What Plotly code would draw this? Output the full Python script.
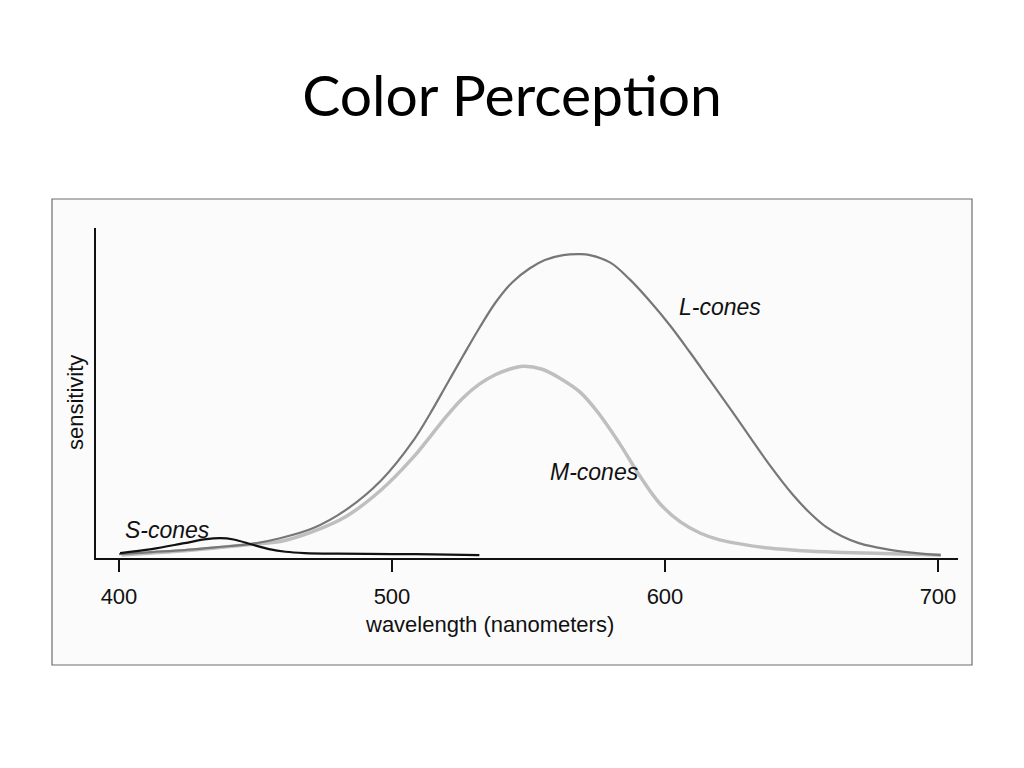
import plotly.graph_objects as go

# ---- data ----
l_nm = [400, 412, 424, 436, 448, 459, 471, 483, 496, 508, 514, 520, 526, 532, 538, 544, 550.5, 556, 562.7, 569,
        572.5, 580, 587, 594.5, 602, 609, 616.5, 624, 631, 638.5, 647, 653, 659, 665, 671, 677, 683, 692, 701]
l_val = [0.012, 0.018, 0.024, 0.033, 0.042, 0.06, 0.09, 0.145, 0.235, 0.358, 0.438, 0.525, 0.612, 0.697, 0.775,
         0.835, 0.878, 0.903, 0.918, 0.921, 0.918, 0.895, 0.845, 0.778, 0.703, 0.625, 0.538, 0.451, 0.368, 0.28,
         0.19, 0.137, 0.094, 0.065, 0.045, 0.033, 0.024, 0.015, 0.009]

m_nm = [401, 412, 424, 436, 449, 459, 471, 483, 496, 508, 514, 520, 526, 532, 538, 543, 548, 555, 561.5, 569,
        576, 583.5, 591, 598, 605.5, 613, 620, 628, 638, 650, 665, 683, 701]
m_val = [0.009, 0.015, 0.022, 0.031, 0.042, 0.05, 0.08, 0.125, 0.206, 0.307, 0.368, 0.43, 0.485, 0.527, 0.556,
         0.572, 0.581, 0.572, 0.545, 0.502, 0.435, 0.345, 0.246, 0.166, 0.11, 0.075, 0.055, 0.042, 0.03, 0.022,
         0.017, 0.013, 0.009]

s_nm = [400.4, 412, 424, 432, 437, 442, 449, 455, 461, 468, 480, 500, 515, 532]
s_val = [0.015, 0.027, 0.045, 0.057, 0.06, 0.056, 0.04, 0.027, 0.019, 0.015, 0.013, 0.012, 0.011, 0.009]

tick_vals = [400, 500, 600, 700]
tick_text = ["400", "500", "600", "700"]

label_text = ["L-cones", "M-cones", "S-cones"]
label_x = [620.1, 574.0, 417.9]
label_y = [0.761, 0.261, 0.085]

FONT = "Liberation Sans, Arial, sans-serif"

# page geometry (the page adds an 8 px body margin)
W, H = 1016, 760
L_, T_ = 88, 220
PW, PH = 862, 330


def px_x(px):
    return (px - 96) / PW


def px_y(py):
    return (558 - py) / PH


fig = go.Figure()
fig.add_trace(go.Scatter(x=m_nm, y=m_val, mode="lines",
                         line=dict(color="#bfbfbf", width=3.5, shape="spline", smoothing=1.0),
                         showlegend=False, hoverinfo="skip"))
fig.add_trace(go.Scatter(x=l_nm, y=l_val, mode="lines",
                         line=dict(color="#777777", width=2.2, shape="spline", smoothing=1.0),
                         showlegend=False, hoverinfo="skip"))
fig.add_trace(go.Scatter(x=s_nm, y=s_val, mode="lines",
                         line=dict(color="#111111", width=2.2, shape="spline", smoothing=1.0),
                         showlegend=False, hoverinfo="skip"))

for t, x, y in zip(label_text, label_x, label_y):
    fig.add_annotation(x=x, y=y, xref="x", yref="y", text=f"<i>{t}</i>", showarrow=False,
                       font=dict(family=FONT, size=23, color="#111"), xanchor="center", yanchor="middle")

# axis titles (not centered on the plot area in the reference)
fig.add_annotation(x=px_x(489), y=px_y(624), xref="paper", yref="paper",
                   text="wavelength (nanometers)", showarrow=False,
                   font=dict(family=FONT, size=22, color="#111"), xanchor="center", yanchor="middle")
fig.add_annotation(x=px_x(75), y=px_y(403), xref="paper", yref="paper",
                   text="sensitivity", showarrow=False, textangle=-90,
                   font=dict(family=FONT, size=22, color="#111"), xanchor="center", yanchor="middle")

# framed box around the chart
fig.add_shape(type="rect", xref="paper", yref="paper",
              x0=px_x(52), x1=px_x(972), y0=px_y(665), y1=px_y(199),
              line=dict(color="#6e6e6e", width=1.2), fillcolor="#fbfbfb", layer="below")

fig.update_layout(
    width=W, height=H,
    margin=dict(l=L_, r=W - L_ - PW, t=T_, b=H - T_ - PH, pad=0),
    paper_bgcolor="white", plot_bgcolor="rgba(0,0,0,0)",
    title=dict(text="Color Perception", x=0.5 - 4 / W, xref="container", xanchor="center",
               y=1 - 88 / H, yref="container", yanchor="middle",
               font=dict(family="Lato, 'Open Sans', sans-serif", size=57, color="#000")),
    xaxis=dict(range=[391.58, 707.33], showgrid=False, zeroline=False, showline=True,
               linecolor="#111", linewidth=1.5, ticks="outside", ticklen=12, tickwidth=1.5, tickcolor="#111",
               tickvals=tick_vals, ticktext=tick_text, ticklabelstandoff=6,
               tickfont=dict(family=FONT, size=22, color="#111")),
    yaxis=dict(range=[0, 1], showgrid=False, zeroline=False, showline=True,
               linecolor="#111", linewidth=1.5, showticklabels=False, ticks=""),
)

fig.write_html("out.html")
